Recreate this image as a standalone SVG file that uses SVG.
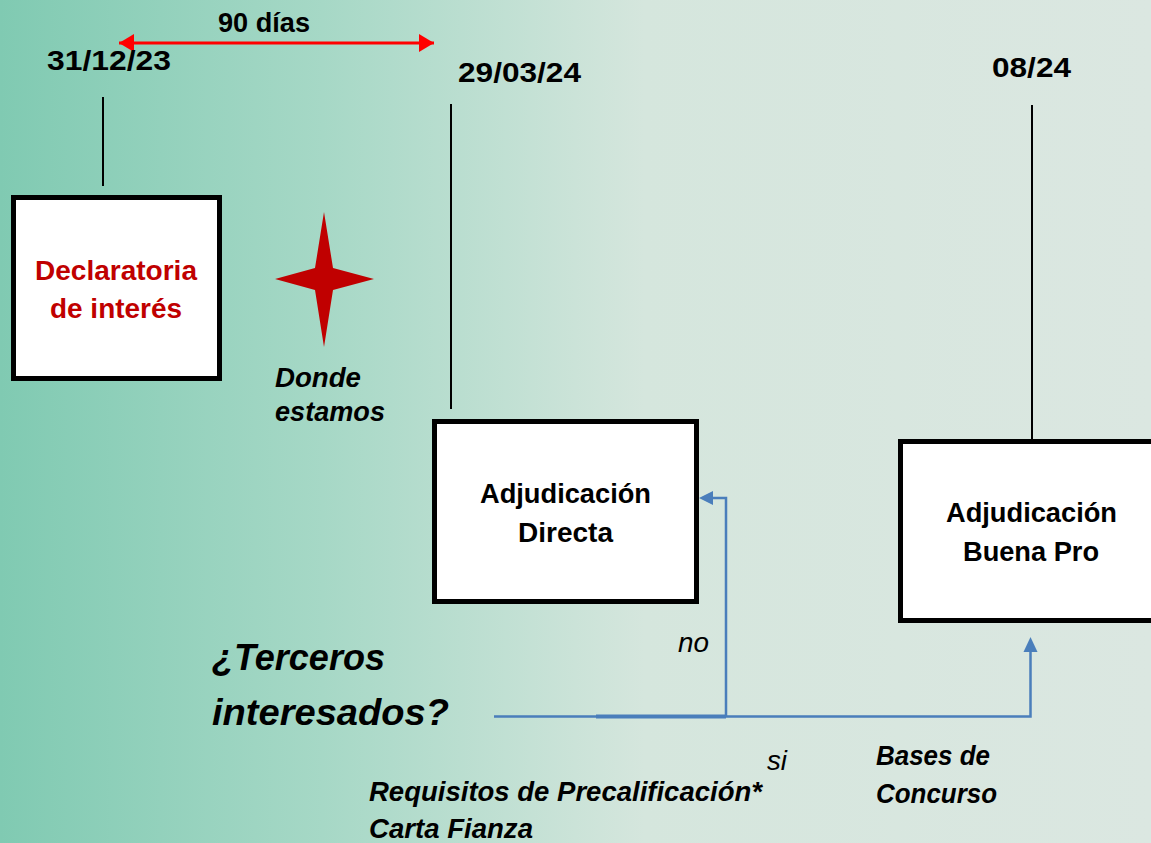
<svg xmlns="http://www.w3.org/2000/svg" width="1151" height="843" viewBox="0 0 1151 843">
<defs>
<linearGradient id="bg" x1="0" y1="0" x2="1" y2="0">
<stop offset="0" stop-color="#80cab2"/>
<stop offset="0.28" stop-color="#a6d8c6"/>
<stop offset="0.56" stop-color="#d5e6dd"/>
<stop offset="1" stop-color="#dbe7e1"/>
</linearGradient>
<marker id="redHead" markerWidth="6" markerHeight="6" refX="5" refY="3" orient="auto-start-reverse" markerUnits="strokeWidth">
<path d="M0,0 L5,3 L0,6 z" fill="#ff0000"/>
</marker>
</defs>
<style>
.t{font-family:"Liberation Sans",Arial,sans-serif;font-weight:bold;font-size:28px;fill:#000}
.i{font-style:italic}
.n{font-weight:normal}
.red{fill:#c00000}
.box{fill:#fff;stroke:#000;stroke-width:5}
.tick{stroke:#000;stroke-width:2;fill:none}
.blue{stroke:#4a7ebb;stroke-width:2.5;fill:none}
</style>
<rect x="0" y="0" width="1151" height="843" fill="url(#bg)"/>

<g id="timeline">
<line x1="119" y1="43" x2="434" y2="43" stroke="#ff0000" stroke-width="3" marker-start="url(#redHead)" marker-end="url(#redHead)"/>
<text class="t" x="218" y="32" textLength="92" lengthAdjust="spacingAndGlyphs">90 días</text>
<text class="t" x="47" y="70" textLength="124" lengthAdjust="spacingAndGlyphs">31/12/23</text>
<text class="t" x="458" y="82" textLength="123" lengthAdjust="spacingAndGlyphs">29/03/24</text>
<text class="t" x="992" y="77" textLength="79" lengthAdjust="spacingAndGlyphs">08/24</text>
<line class="tick" x1="103" y1="97" x2="103" y2="186"/>
<line class="tick" x1="451" y1="104" x2="451" y2="409"/>
<line class="tick" x1="1032" y1="105" x2="1032" y2="439"/>
</g>

<g id="declaratoria">
<rect class="box" x="13.5" y="197.5" width="206" height="181"/>
<text class="t red" x="35" y="280" textLength="162" lengthAdjust="spacingAndGlyphs">Declaratoria</text>
<text class="t red" x="50" y="318" textLength="132" lengthAdjust="spacingAndGlyphs">de interés</text>
</g>

<g id="donde-estamos">
<polygon points="324,212 333,268 374,279 333,290 324,347 315,290 275,279 315,268" fill="#c00000"/>
<text class="t i" x="275" y="387" textLength="86" lengthAdjust="spacingAndGlyphs">Donde</text>
<text class="t i" x="275" y="421" textLength="110" lengthAdjust="spacingAndGlyphs">estamos</text>
</g>

<g id="adjudicacion-directa">
<rect class="box" x="434.5" y="421.5" width="262" height="180"/>
<text class="t" x="480" y="503" textLength="171" lengthAdjust="spacingAndGlyphs">Adjudicación</text>
<text class="t" x="518" y="542" textLength="95" lengthAdjust="spacingAndGlyphs">Directa</text>
</g>

<g id="adjudicacion-buena-pro">
<rect class="box" x="900.5" y="441.5" width="262" height="179"/>
<text class="t" x="946" y="522" textLength="171" lengthAdjust="spacingAndGlyphs">Adjudicación</text>
<text class="t" x="963" y="561" textLength="136" lengthAdjust="spacingAndGlyphs">Buena Pro</text>
</g>

<g id="terceros">
<text class="t i" style="font-size:36px" x="212" y="670" textLength="173" lengthAdjust="spacingAndGlyphs">¿Terceros</text>
<text class="t i" style="font-size:36px" x="212" y="725" textLength="237" lengthAdjust="spacingAndGlyphs">interesados?</text>
</g>

<g id="connectors">
<path class="blue" d="M494,716.5 H1030.5 V650"/>
<path d="M596,716.5 H726" stroke="#4a7ebb" stroke-width="4" fill="none"/>
<path class="blue" d="M726,716.5 V498 H712"/>
<polygon points="699,498 713,491 713,505" fill="#4a7ebb"/>
<polygon points="1030.5,637 1023.5,652 1037.5,652" fill="#4a7ebb"/>
</g>

<g id="labels">
<text class="t i n" x="678" y="652" textLength="31" lengthAdjust="spacingAndGlyphs">no</text>
<text class="t i n" x="767" y="770" textLength="20" lengthAdjust="spacingAndGlyphs">si</text>
<text class="t i" x="876" y="765" textLength="114" lengthAdjust="spacingAndGlyphs">Bases de</text>
<text class="t i" x="876" y="803" textLength="121" lengthAdjust="spacingAndGlyphs">Concurso</text>
<text class="t i" x="369" y="801" textLength="393" lengthAdjust="spacingAndGlyphs">Requisitos de Precalificación*</text>
<text class="t i" x="369" y="838" textLength="164" lengthAdjust="spacingAndGlyphs">Carta Fianza</text>
</g>
</svg>
